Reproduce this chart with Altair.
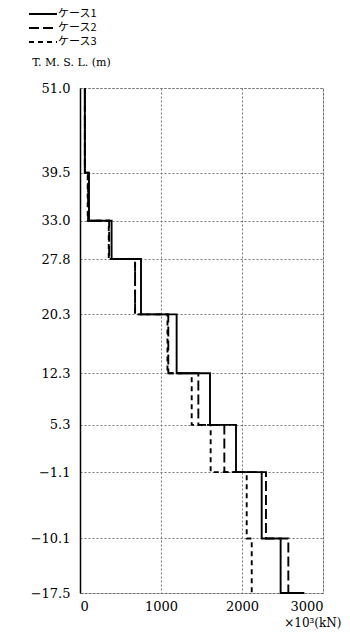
import altair as alt
import pandas as pd

# Elevation levels (T.M.S.L., m), top to bottom
levels = [51.0, 39.5, 33.0, 27.8, 20.3, 12.3, 5.3, -1.1, -10.1, -17.5]
# Value for each layer (x10^3 kN), between successive levels
case1 = [60, 111, 390, 753, 1193, 1605, 1926, 2243, 2477]
case2 = [60, 100, 360, 680, 1090, 1461, 1782, 2296, 2572]
case3 = [60, 95, 355, 680, 1080, 1379, 1613, 2058, 2120]
case1_bottom = 2770
names = ["ケース1", "ケース2", "ケース3"]
x_ticks = [0, 1000, 2000, 3000]

rows = []
for name, vals in zip(names, [case1, case2, case3]):
    k = 0
    for i, v in enumerate(vals):
        rows.append({"case": name, "x": v, "y": levels[i], "o": k}); k += 1
        rows.append({"case": name, "x": v, "y": levels[i + 1], "o": k}); k += 1
    if name == "ケース1":
        rows.append({"case": name, "x": case1_bottom, "y": levels[-1], "o": k})
df = pd.DataFrame(rows)

chart = alt.Chart(df).mark_line(color="black", strokeWidth=1.9, clip=False).encode(
    x=alt.X("x:Q", scale=alt.Scale(domain=[0, 3000], nice=False),
            axis=alt.Axis(values=x_ticks, format="d", grid=True, ticks=False, domain=False,
                          labelPadding=7, title="×10³(kN)", titleAlign="right",
                          titleBaseline="middle",
                          titleX=261, titleY=29, titleFontWeight="normal",
                          titleFont="DejaVu Serif", titleFontSize=12)),
    y=alt.Y("y:Q", scale=alt.Scale(domain=[-17.5, 51], nice=False, zero=False),
            axis=alt.Axis(values=levels, format=".1f", grid=True, ticks=False,
                          labelPadding=10, title="T. M. S. L. (m)", titleAngle=0,
                          titleAlign="center", titleBaseline="middle",
                          titleX=-9, titleY=-26, titleFontWeight="normal",
                          titleFont="DejaVu Serif", titleFontSize=11,
                          domainColor="black", domainWidth=1.5)),
    strokeDash=alt.StrokeDash("case:N",
        scale=alt.Scale(domain=names, range=[[1, 0], [10, 4], [5, 4]]),
        legend=alt.Legend(title=None, orient="none", legendX=-52, legendY=-81,
                          symbolType="stroke", symbolSize=784, symbolStrokeWidth=2,
                          symbolStrokeColor="black",
                          labelFont="Noto Sans CJK JP",
                          labelFontSize=11, rowPadding=0, labelOffset=0,
                          clipHeight=14, padding=0)),
    order="o:Q",
).properties(
    width=243, height=505,
    autosize=alt.AutoSizeParams(type="none"),
    padding={"left": 72, "top": 80, "right": 19, "bottom": 38},
).configure_axis(
    labelFont="DejaVu Serif", labelFontSize=13, labelColor="black",
    gridColor="#777", gridDash=[2, 2], gridWidth=1,
).configure_view(
    stroke="#555", strokeDash=[2, 2], strokeWidth=1,
)

chart.save("out.html", embed_options={"renderer": "svg", "actions": False})
